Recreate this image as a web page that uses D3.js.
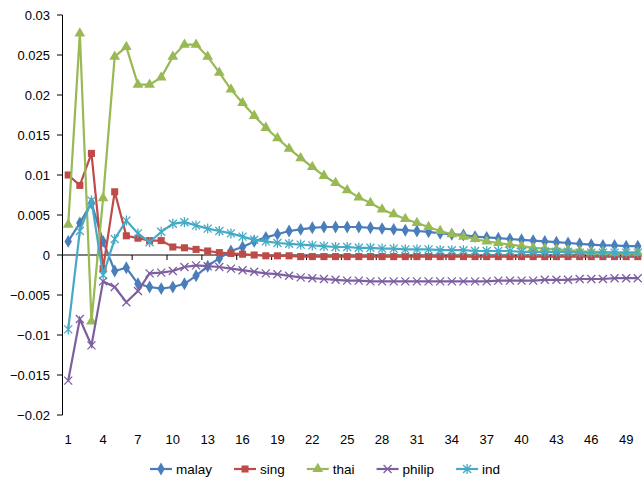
<!DOCTYPE html>
<html><head><meta charset="utf-8">
<script src="https://cdn.jsdelivr.net/npm/d3@7"></script>
<style>body{margin:0;background:#fff}text{font-family:"Liberation Sans",Carlito,sans-serif;fill:#000}</style>
</head><body><svg id="c" width="642" height="482"></svg>
<script>
const periods = d3.range(1, 51);
const xTickLabels = d3.range(1, 50, 3);
const yTicks = [-0.02, -0.015, -0.01, -0.005, 0, 0.005, 0.01, 0.015, 0.02, 0.025, 0.03];

const malay = [0.0017,0.004,0.0065,0.0017,-0.002,-0.0016,-0.0036,-0.004,-0.0042,-0.004,-0.0036,-0.0026,-0.0014,-0.0004,0.0005,0.001,0.0017,0.0022,0.0026,0.003,0.0032,0.0034,0.0035,0.0035,0.0035,0.0035,0.0034,0.0033,0.0032,0.0031,0.003,0.0029,0.0027,0.0026,0.0025,0.0023,0.0022,0.0021,0.002,0.0019,0.0018,0.0017,0.0016,0.0015,0.0014,0.0013,0.0012,0.0012,0.0011,0.0011];
const sing = [0.01,0.0087,0.0127,-0.0017,0.0079,0.0024,0.0021,0.0018,0.0018,0.001,0.0009,0.0007,0.0005,0.0003,0.0002,0.0001,0,-0.0001,-0.0001,-0.0001,-0.0002,-0.0002,-0.0002,-0.0002,-0.0002,-0.0002,-0.0002,-0.0002,-0.0002,-0.0002,-0.0002,-0.0002,-0.0002,-0.0002,-0.0002,-0.0002,-0.0002,-0.0002,-0.0002,-0.0002,-0.0002,-0.0002,-0.0002,-0.0002,-0.0002,-0.0002,-0.0002,-0.0002,-0.0002,-0.0002];
const thai = [0.0038,0.0277,-0.0083,0.0071,0.0248,0.026,0.0213,0.0213,0.0222,0.0248,0.0263,0.0263,0.0248,0.0228,0.0207,0.019,0.0174,0.0159,0.0146,0.0133,0.0121,0.011,0.0099,0.009,0.0081,0.0072,0.0065,0.0057,0.0051,0.0045,0.004,0.0035,0.003,0.0026,0.0023,0.002,0.0017,0.0015,0.0013,0.0011,0.0009,0.0008,0.0007,0.0006,0.0005,0.0004,0.0004,0.0003,0.0003,0.0003];
const philip = [-0.0157,-0.008,-0.0113,-0.0033,-0.004,-0.0059,-0.0045,-0.0023,-0.0022,-0.002,-0.0015,-0.0013,-0.0014,-0.0015,-0.0017,-0.0019,-0.0021,-0.0023,-0.0024,-0.0026,-0.0028,-0.0029,-0.003,-0.0031,-0.0032,-0.0032,-0.0033,-0.0033,-0.0033,-0.0033,-0.0033,-0.0033,-0.0033,-0.0033,-0.0033,-0.0033,-0.0033,-0.0032,-0.0032,-0.0032,-0.0032,-0.0031,-0.0031,-0.0031,-0.003,-0.003,-0.003,-0.0029,-0.0029,-0.0029];
const ind = [-0.0093,0.003,0.0068,-0.0025,0.002,0.0043,0.0027,0.0016,0.0029,0.0039,0.0041,0.0037,0.0033,0.003,0.0027,0.0023,0.0019,0.0017,0.0015,0.0014,0.0013,0.0012,0.0011,0.001,0.001,0.0009,0.0009,0.0008,0.0008,0.0007,0.0007,0.0007,0.0006,0.0006,0.0006,0.0005,0.0005,0.0005,0.0005,0.0004,0.0004,0.0004,0.0004,0.0004,0.0003,0.0003,0.0003,0.0003,0.0003,0.0003];

const series = [
  {name: "malay", values: malay, color: "#4a7ebb", sym: d3.symbolDiamond, size: 48},
  {name: "sing", values: sing, color: "#be4b48", sym: d3.symbolSquare, size: 50},
  {name: "thai", values: thai, color: "#98b954", sym: d3.symbolTriangle, size: 50},
  {name: "philip", values: philip, color: "#7d5fa0", sym: "x", size: 4},
  {name: "ind", values: ind, color: "#46aac5", sym: "star", size: 4}
];

const svg = d3.select("#c");
const x = d3.scaleLinear().domain([0.5, 50.5]).range([62.4, 643.6]);
const y = d3.scaleLinear().domain([-0.02, 0.03]).range([415, 15]);

// y axis
svg.append("line").attr("x1", 62.5).attr("x2", 62.5).attr("y1", 15).attr("y2", 415).attr("stroke", "#000");
yTicks.forEach(t => {
  svg.append("line").attr("x1", 57).attr("x2", 62.5).attr("y1", y(t)).attr("y2", y(t)).attr("stroke", "#000");
  svg.append("text").attr("x", 50).attr("y", y(t) + 4.5).attr("text-anchor", "end")
    .attr("font-size", 13).text(t === 0 ? "0" : d3.format("")(t));
});
// x axis at zero
svg.append("line").attr("x1", 62.5).attr("x2", 643).attr("y1", y(0)).attr("y2", y(0)).attr("stroke", "#000");
d3.range(0.5, 51, 3).forEach(t => {
  svg.append("line").attr("x1", x(t)).attr("x2", x(t)).attr("y1", y(0)).attr("y2", y(0) + 5).attr("stroke", "#000");
});
xTickLabels.forEach(t => {
  svg.append("text").attr("x", x(t)).attr("y", 444).attr("text-anchor", "middle").attr("font-size", 13).text(t);
});

function marker(g, s, cx, cy) {
  if (s.sym === "x" || s.sym === "star") {
    const r = s.size;
    let d = `M${cx - r},${cy - r}L${cx + r},${cy + r}M${cx - r},${cy + r}L${cx + r},${cy - r}`;
    if (s.sym === "star") d += `M${cx},${cy - r - 1}L${cx},${cy + r + 1}`;
    g.append("path").attr("d", d).attr("stroke", s.color).attr("stroke-width", 1.3).attr("fill", "none");
  } else {
    g.append("path").attr("d", d3.symbol().type(s.sym).size(s.size)())
      .attr("transform", `translate(${cx},${cy})`).attr("fill", s.color);
  }
}

const line = d3.line().x((d, i) => x(periods[i])).y(d => y(d));
series.forEach(s => {
  const g = svg.append("g");
  g.append("path").attr("d", line(s.values)).attr("fill", "none").attr("stroke", s.color).attr("stroke-width", 2.2);
  s.values.forEach((v, i) => marker(g, s, x(periods[i]), y(v)));
});

// legend
const lg = svg.append("g");
let lx = 150;
series.forEach(s => {
  lg.append("line").attr("x1", lx).attr("x2", lx + 22).attr("y1", 469).attr("y2", 469).attr("stroke", s.color).attr("stroke-width", 2.2);
  marker(lg, s, lx + 11, 469);
  const t = lg.append("text").attr("x", lx + 26).attr("y", 474).attr("font-size", 13.5).text(s.name);
  lx += 26 + t.node().getComputedTextLength() + 22;
});
</script></body></html>
